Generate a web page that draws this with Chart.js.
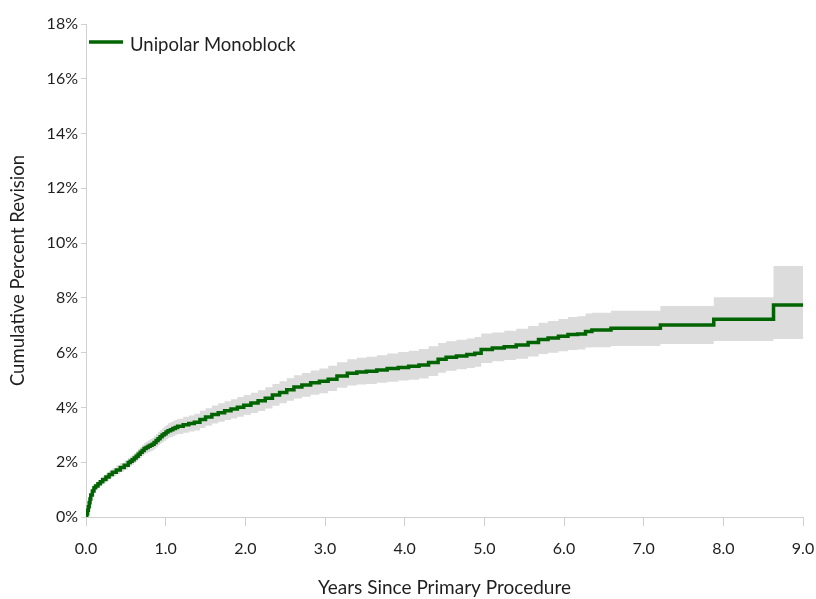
<!DOCTYPE html>
<html>
<head>
<meta charset="utf-8">
<script src="https://cdn.jsdelivr.net/npm/chart.js@4"></script>
<style>
  html, body { margin: 0; padding: 0; background: #ffffff; }
  #wrap { width: 816px; height: 599px; position: relative; }
</style>
</head>
<body>
<div id="wrap"><canvas id="chart"></canvas></div>
<script>
// Kaplan-Meier cumulative percent revision with 95% confidence band
const seriesName = 'Unipolar Monoblock';

const years = [
  0, 0.01, 0.02, 0.03, 0.04, 0.05, 0.06, 0.08, 0.10, 0.12, 0.15, 0.18, 0.21, 0.25, 0.29, 0.33,
  0.38, 0.43, 0.48,
  0.53, 0.555, 0.58, 0.605, 0.63, 0.655, 0.68, 0.705, 0.73, 0.755, 0.78, 0.805, 0.83, 0.855,
  0.88, 0.905, 0.93, 0.955, 0.98, 1.005, 1.03, 1.06, 1.09, 1.12, 1.15,
  1.22, 1.29, 1.36, 1.43, 1.50, 1.58, 1.66, 1.74, 1.82, 1.90, 1.98, 2.07, 2.16, 2.25, 2.34, 2.43,
  2.52, 2.61, 2.71, 2.82, 2.93, 3.04, 3.15, 3.28, 3.40, 3.52, 3.65, 3.78, 3.92, 4.05, 4.18, 4.30,
  4.42, 4.52, 4.65, 4.78, 4.88, 4.96, 5.10, 5.25, 5.40, 5.55, 5.68, 5.80, 5.93, 6.05, 6.17, 6.27,
  6.35, 6.59, 7.21, 7.88, 8.63, 9.00
];

const revision = [
  0, 0.12, 0.25, 0.37, 0.52, 0.66, 0.80, 0.95, 1.07, 1.13, 1.21, 1.29, 1.37, 1.46, 1.55, 1.63,
  1.72, 1.81, 1.89,
  1.99, 2.04, 2.09, 2.15, 2.22, 2.29, 2.36, 2.43, 2.50, 2.54, 2.58, 2.62, 2.66, 2.72,
  2.79, 2.86, 2.93, 2.99, 3.04, 3.10, 3.15, 3.19, 3.23, 3.27, 3.31,
  3.37, 3.41, 3.46, 3.56, 3.65, 3.74, 3.81, 3.88, 3.94, 4.01, 4.08, 4.16, 4.24, 4.34, 4.45, 4.55,
  4.65, 4.75, 4.82, 4.90, 4.96, 5.03, 5.15, 5.25, 5.29, 5.32, 5.37, 5.42, 5.46, 5.50, 5.55, 5.64,
  5.76, 5.83, 5.88, 5.93, 5.98, 6.12, 6.17, 6.22, 6.28, 6.37, 6.48, 6.54, 6.60, 6.66, 6.68, 6.77,
  6.83, 6.89, 7.01, 7.22, 7.74, 7.74
];

const lowerCI = [
  0, 0.08, 0.19, 0.30, 0.44, 0.57, 0.70, 0.84, 0.96, 1.01, 1.09, 1.16, 1.24, 1.32, 1.41, 1.48,
  1.57, 1.65, 1.73,
  1.82, 1.87, 1.91, 1.97, 2.03, 2.10, 2.16, 2.23, 2.29, 2.33, 2.36, 2.40, 2.43, 2.49,
  2.55, 2.62, 2.68, 2.73, 2.78, 2.84, 2.89, 2.92, 2.96, 3.00, 3.03,
  3.08, 3.12, 3.16, 3.25, 3.33, 3.41, 3.48, 3.54, 3.60, 3.66, 3.73, 3.80, 3.87, 3.96, 4.06, 4.15,
  4.24, 4.33, 4.39, 4.46, 4.52, 4.60, 4.72, 4.80, 4.84, 4.86, 4.90, 4.94, 4.98, 5.01, 5.06, 5.15,
  5.27, 5.34, 5.39, 5.44, 5.49, 5.62, 5.69, 5.73, 5.78, 5.86, 5.95, 6.00, 6.05, 6.10, 6.12, 6.19,
  6.20, 6.24, 6.32, 6.43, 6.50, 6.50
];

const upperCI = [
  0, 0.16, 0.31, 0.44, 0.60, 0.75, 0.90, 1.06, 1.19, 1.25, 1.34, 1.42, 1.51, 1.60, 1.70, 1.78,
  1.88, 1.97, 2.06,
  2.16, 2.22, 2.27, 2.34, 2.41, 2.49, 2.56, 2.64, 2.71, 2.76, 2.80, 2.85, 2.89, 2.96,
  3.03, 3.11, 3.18, 3.24, 3.30, 3.36, 3.42, 3.47, 3.51, 3.55, 3.59,
  3.66, 3.71, 3.77, 3.88, 3.97, 4.07, 4.15, 4.23, 4.30, 4.38, 4.45, 4.54, 4.63, 4.74, 4.86, 4.96,
  5.07, 5.18, 5.26, 5.35, 5.42, 5.52, 5.65, 5.76, 5.81, 5.85, 5.91, 5.97, 6.02, 6.07, 6.13, 6.23,
  6.35, 6.42, 6.47, 6.52, 6.57, 6.70, 6.74, 6.80, 6.87, 6.97, 7.09, 7.16, 7.23, 7.30, 7.33, 7.43,
  7.46, 7.53, 7.70, 8.02, 9.16, 9.16
];

const xTicks = [0, 1, 2, 3, 4, 5, 6, 7, 8, 9];
const yTicks = [0, 2, 4, 6, 8, 10, 12, 14, 16, 18];

const FONT = 'Lato, "Open Sans", sans-serif';
const TEXT = '#1f1f1f';
const AXIS = '#d0d0d0';
const GREEN = '#006400';
const BAND = '#dcdcdc';

const toPoints = vals => years.map((t, i) => ({ x: t, y: vals[i] }));

// Legend sample drawn inside the plot's top-left corner
const insideLegend = {
  id: 'insideLegend',
  afterDraw(chart) {
    const { ctx, chartArea } = chart;
    const x0 = chartArea.left + 3;
    const y0 = chartArea.top + 18;
    ctx.save();
    ctx.strokeStyle = GREEN;
    ctx.lineWidth = 3.5;
    ctx.beginPath();
    ctx.moveTo(x0, y0);
    ctx.lineTo(x0 + 34, y0);
    ctx.stroke();
    ctx.fillStyle = TEXT;
    ctx.font = '18.5px ' + FONT;
    ctx.textBaseline = 'middle';
    ctx.textAlign = 'left';
    ctx.fillText(seriesName, x0 + 41, y0 + 3);
    ctx.restore();
  }
};

new Chart(document.getElementById('chart'), {
  type: 'line',
  data: {
    datasets: [
      {
        label: seriesName,
        data: toPoints(revision),
        stepped: 'before',
        borderColor: GREEN,
        borderWidth: 3.5,
        pointRadius: 0,
        fill: false,
        order: 0
      },
      {
        label: 'upper',
        data: toPoints(upperCI),
        stepped: 'before',
        borderColor: 'rgba(0,0,0,0)',
        borderWidth: 0,
        pointRadius: 0,
        fill: false,
        order: 1
      },
      {
        label: 'lower',
        data: toPoints(lowerCI),
        stepped: 'before',
        borderColor: 'rgba(0,0,0,0)',
        borderWidth: 0,
        pointRadius: 0,
        backgroundColor: BAND,
        fill: '-1',
        order: 2
      }
    ]
  },
  options: {
    responsive: true,
    maintainAspectRatio: false,
    animation: false,
    layout: { padding: { left: 0, right: 13, top: 24, bottom: 0 } },
    plugins: {
      legend: { display: false },
      tooltip: { enabled: false }
    },
    scales: {
      x: {
        type: 'linear',
        min: 0,
        max: 9,
        afterFit(scale) {
          scale.height = 82;
          scale.paddingLeft = 0;
          scale.paddingRight = 0;
        },
        afterBuildTicks(scale) { scale.ticks = xTicks.map(v => ({ value: v })); },
        grid: { drawOnChartArea: false, drawTicks: true, tickLength: 9, color: AXIS },
        border: { display: true, color: AXIS, width: 1 },
        ticks: {
          padding: 13,
          color: TEXT,
          font: { family: FONT, size: 16 },
          maxRotation: 0,
          callback: v => v.toFixed(1)
        },
        title: {
          display: true,
          text: 'Years Since Primary Procedure',
          color: TEXT,
          font: { family: FONT, size: 19 },
          padding: { top: 0, bottom: 0 }
        }
      },
      y: {
        min: 0,
        max: 18,
        afterFit(scale) {
          scale.width = 86;
          scale.paddingTop = 0;
          scale.paddingBottom = 0;
        },
        afterBuildTicks(scale) { scale.ticks = yTicks.map(v => ({ value: v })); },
        grid: { drawOnChartArea: false, drawTicks: true, tickLength: 5, color: AXIS },
        border: { display: true, color: AXIS, width: 1 },
        ticks: {
          padding: 3,
          color: TEXT,
          font: { family: FONT, size: 16 },
          callback: v => v + '%'
        },
        title: {
          display: true,
          text: 'Cumulative Percent Revision',
          color: TEXT,
          font: { family: FONT, size: 18.5 },
          padding: { top: 7, bottom: 0 }
        }
      }
    }
  },
  plugins: [insideLegend]
});
</script>
</body>
</html>
